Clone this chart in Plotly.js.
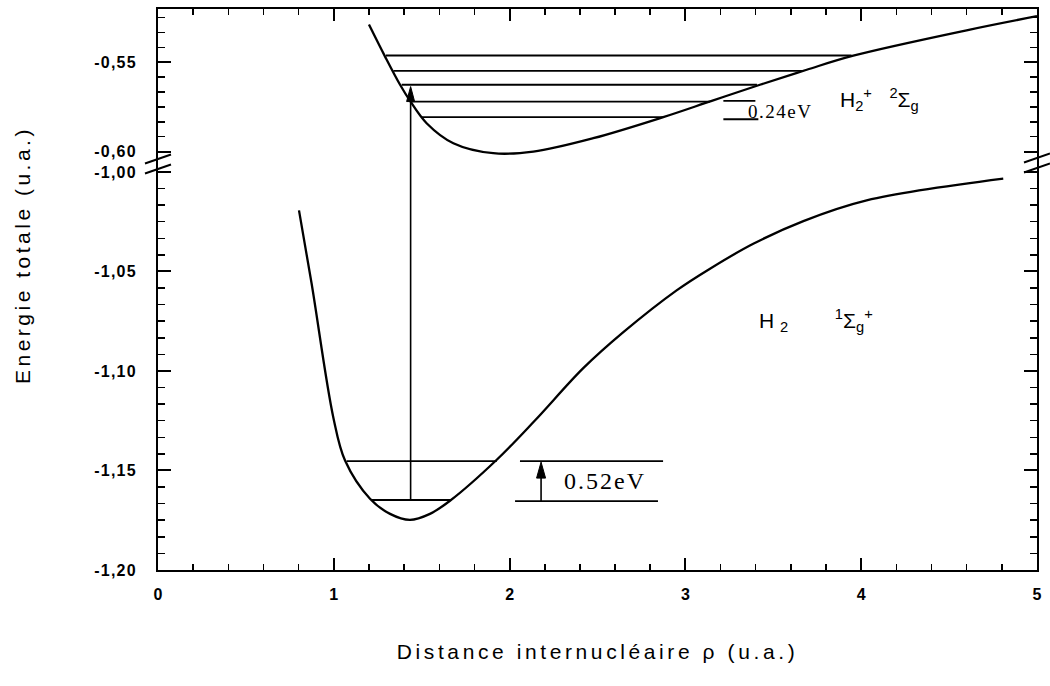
<!DOCTYPE html>
<html>
<head>
<meta charset="utf-8">
<script src="https://cdn.plot.ly/plotly-3.0.1.min.js"></script>
<style>
  html, body { margin: 0; padding: 0; background: #fff; }
  #chart { width: 1050px; height: 686px; }
</style>
</head>
<body>
<div id="chart"></div>
<script>
/* H2 / H2+ potential curves with a broken energy axis.
   Values. */

// H2 1Σg+ ground state (lower panel)
const R_H2 = [0.802, 0.874, 0.997, 1.064, 1.206, 1.320, 1.433, 1.547, 1.661, 1.927, 2.144, 2.419, 2.647, 2.950, 3.140, 3.386, 3.671, 4.031, 4.808];
const E_H2 = [-1.0193, -1.0562, -1.1232, -1.1450, -1.1642, -1.1718, -1.1748, -1.1718, -1.1652, -1.1446, -1.1249, -1.0986, -1.0805, -1.0595, -1.0486, -1.0361, -1.0247, -1.0143, -1.0034];

// H2+ 2Σg (upper panel)
const R_H2P = [1.200, 1.291, 1.377, 1.433, 1.528, 1.680, 1.907, 2.135, 2.476, 2.874, 3.150, 3.424, 3.690, 3.955, 4.619, 5.0];
const E_H2P = [-0.5289, -0.5467, -0.5626, -0.5715, -0.5841, -0.5953, -0.6009, -0.6000, -0.5925, -0.5807, -0.5716, -0.5626, -0.5542, -0.5463, -0.5317, -0.5242];

// vibrational levels
const LEV_H2_E = [-1.1453, -1.1648];
const LEV_H2_R0 = [1.073, 1.216];
const LEV_H2_R1 = [1.927, 1.661];
const LEV_H2P_E = [-0.5462, -0.5548, -0.5626, -0.5720, -0.5807];
const LEV_H2P_R0 = [1.297, 1.339, 1.386, 1.433, 1.500];
const LEV_H2P_R1 = [3.945, 3.668, 3.407, 3.140, 2.874];

// vertical transition
const TRANS_R = 1.437;
const TRANS_E0 = -1.1648;   // start, lower panel
const TRANS_E1 = -0.5636;   // arrow tip, upper panel

// 0.52 eV bracket (lower panel)
const GAP52_E = [-1.1453, -1.1654];
const GAP52_R0 = [2.059, 2.031];
const GAP52_R1 = [2.873, 2.844];
const GAP52_ARROW_R = 2.179;
const GAP52_TIP = -1.1458;

// 0.24 eV marks (upper panel)
const GAP24_E = [-0.5716, -0.5819];
const GAP24_R0 = [3.216, 3.216];
const GAP24_R1 = [3.398, 3.415];

// axis ticks
const X_TICKS = [0, 1, 2, 3, 4, 5];
const X_TEXT = ['0', '1', '2', '3', '4', '5'];
const Y_LOW_TICKS = [-1.20, -1.15, -1.10, -1.05, -1.00];
const Y_LOW_TEXT = ['-1,20', '-1,15', '-1,10', '-1,05', '-1,00'];
const Y_UP_TICKS = [-0.60, -0.55];
const Y_UP_TEXT = ['-0,60', '-0,55'];

const X_RANGE = [0, 5];
const Y_LOW_RANGE = [-1.2, -0.995];
const Y_UP_RANGE = [-0.6058, -0.5202];
const SPLIT = 0.7273;

const M = { l: 158, r: 13, t: 9, b: 116 };
const PW = 1050 - M.l - M.r, PH = 686 - M.t - M.b;
const pxPerX = PW / (X_RANGE[1] - X_RANGE[0]);
const pxPerYLow = PH * SPLIT / (Y_LOW_RANGE[1] - Y_LOW_RANGE[0]);
const pxPerYUp = PH * (1 - SPLIT) / (Y_UP_RANGE[1] - Y_UP_RANGE[0]);

const BLACK = '#000';
const SANS = 'Arial, "Liberation Sans", sans-serif';
const SERIF = '"Liberation Serif", "Times New Roman", serif';
const TICK_FONT = { family: SANS, size: 16, color: BLACK, weight: 'bold' };

const ls = (t, s) => `<span style="letter-spacing:${s}px">${t}</span>`;
const NB = '\u00a0';
const nb = n => NB.repeat(n);

function seg(x0, x1, y0, y1, xa, ya, w) {
  return { type: 'scatter', mode: 'lines', x: [x0, x1], y: [y0, y1], xaxis: xa, yaxis: ya,
           line: { color: BLACK, width: w || 1.9 }, hoverinfo: 'skip', showlegend: false };
}

const traces = [
  { type: 'scatter', mode: 'lines', x: R_H2, y: E_H2, xaxis: 'x', yaxis: 'y',
    line: { color: BLACK, width: 2.3, shape: 'spline', smoothing: 1 }, hoverinfo: 'skip', showlegend: false },
  { type: 'scatter', mode: 'lines', x: R_H2P, y: E_H2P, xaxis: 'x2', yaxis: 'y2',
    line: { color: BLACK, width: 2.3, shape: 'spline', smoothing: 1 }, hoverinfo: 'skip', showlegend: false }
];
LEV_H2_E.forEach((e, i) => traces.push(seg(LEV_H2_R0[i], LEV_H2_R1[i], e, e, 'x', 'y')));
LEV_H2P_E.forEach((e, i) => traces.push(seg(LEV_H2P_R0[i], LEV_H2P_R1[i], e, e, 'x2', 'y2')));
GAP52_E.forEach((e, i) => traces.push(seg(GAP52_R0[i], GAP52_R1[i], e, e, 'x', 'y')));
GAP24_E.forEach((e, i) => traces.push(seg(GAP24_R0[i], GAP24_R1[i], e, e, 'x2', 'y2')));
// transition line crosses the break: one piece per panel
traces.push(seg(TRANS_R, TRANS_R, TRANS_E0, Y_LOW_RANGE[1], 'x', 'y', 1.6));
traces.push(seg(TRANS_R, TRANS_R, Y_UP_RANGE[0], TRANS_E1 - 10 / pxPerYUp, 'x2', 'y2', 1.6));
traces.push(seg(GAP52_ARROW_R, GAP52_ARROW_R, GAP52_E[1], GAP52_TIP - 10 / pxPerYLow, 'x', 'y', 1.6));

function arrowHead(x, tip, pxY, xref, yref, len, halfW) {
  const base = tip - len / pxY, hw = halfW / pxPerX;
  return { type: 'path', xref: xref, yref: yref,
           path: `M${x},${tip} L${x - hw},${base} L${x + hw},${base} Z`,
           fillcolor: BLACK, line: { color: BLACK, width: 1 } };
}

// axis-break marks (decoration, paper coords)
function breakMark(px, py) {
  const xp = (px - M.l) / PW, yp = (M.t + PH - py) / PH;
  const dx = 13 / PW, dy = 4.5 / PH;
  return { type: 'line', xref: 'paper', yref: 'paper', x0: xp - dx, y0: yp - dy, x1: xp + dx, y1: yp + dy,
           line: { color: BLACK, width: 2 } };
}
const splitPx = M.t + PH * (1 - SPLIT);

const shapes = [
  arrowHead(TRANS_R, TRANS_E1, pxPerYUp, 'x2', 'y2', 15, 4),
  arrowHead(GAP52_ARROW_R, GAP52_TIP, pxPerYLow, 'x', 'y', 16, 4.5),
  breakMark(M.l, splitPx - 3), breakMark(M.l, splitPx + 7),
  breakMark(M.l + PW, splitPx - 4), breakMark(M.l + PW, splitPx + 6)
];

const annotations = [
  { xref: 'x', yref: 'y', x: 2.30, y: -1.1555, xanchor: 'left', yanchor: 'middle', showarrow: false,
    text: ls('0.52eV', 2), font: { family: SERIF, size: 24, color: BLACK } },
  { xref: 'x2', yref: 'y2', x: 3.345, y: -0.5776, xanchor: 'left', yanchor: 'middle', showarrow: false,
    text: ls('0.24eV', 1.5), font: { family: SERIF, size: 19, color: BLACK } },
  { xref: 'x2', yref: 'y2', x: 3.868, y: -0.5711, xanchor: 'left', yanchor: 'middle', showarrow: false,
    text: `H<sub>2</sub><sup>+</sup>${nb(3)}<sup>2</sup>Σ<sub>g</sub>`, font: { family: SANS, size: 21, color: BLACK } },
  { xref: 'x', yref: 'y', x: 3.407, y: -1.0746, xanchor: 'left', yanchor: 'middle', showarrow: false,
    text: `H${nb(1)}<sub>2</sub>${nb(8)}<sup>1</sup>Σ<sub>g</sub><sup>+</sup>`, font: { family: SANS, size: 21, color: BLACK } },
  // y-axis title spans both panels
  { xref: 'paper', yref: 'paper', x: (22 - M.l) / PW, y: (M.t + PH - 255) / PH, xanchor: 'center', yanchor: 'middle',
    textangle: -90, showarrow: false, text: ls('Energie totale (u.a.)', 3.5), font: { family: SANS, size: 21, color: BLACK } }
];

const xCommon = {
  range: X_RANGE, showline: true, linecolor: BLACK, linewidth: 2, mirror: false,
  ticks: 'inside', ticklen: 12, tickwidth: 2, tickcolor: BLACK, tickmode: 'array', tickvals: X_TICKS, ticktext: X_TEXT,
  minor: { tickmode: 'linear', dtick: 0.2, tick0: 0, ticks: 'inside', ticklen: 6, tickwidth: 1.5, tickcolor: BLACK },
  showgrid: false, zeroline: false, fixedrange: true
};
const yCommon = {
  showline: true, linecolor: BLACK, linewidth: 2, mirror: 'ticks',
  ticks: 'inside', ticklen: 13, tickwidth: 2, tickcolor: BLACK, tickmode: 'array',
  minor: { tickmode: 'linear', tick0: -1.2, dtick: 0.05 / 6, ticks: 'inside', ticklen: 7, tickwidth: 1.5, tickcolor: BLACK },
  showgrid: false, zeroline: false, tickfont: TICK_FONT, ticklabelstandoff: 16, fixedrange: true
};

const layout = {
  width: 1050, height: 686, margin: M,
  paper_bgcolor: '#fff', plot_bgcolor: '#fff', showlegend: false,
  font: { family: SANS, color: BLACK },
  xaxis: { ...xCommon, anchor: 'y', side: 'bottom', tickfont: TICK_FONT, ticklabelstandoff: 9,
    title: { text: ls('Distance internucléaire ρ (u.a.)', 3.6), font: { family: SANS, size: 21, color: BLACK }, standoff: 42 } },
  xaxis2: { ...xCommon, matches: 'x', anchor: 'y2', side: 'top', showticklabels: false },
  yaxis: { ...yCommon, domain: [0, SPLIT], range: Y_LOW_RANGE, anchor: 'x',
    tickvals: Y_LOW_TICKS, ticktext: Y_LOW_TEXT.map(t => ls(t, 1.2)) },
  yaxis2: { ...yCommon, domain: [SPLIT, 1], range: Y_UP_RANGE, anchor: 'x2',
    tickvals: Y_UP_TICKS, ticktext: Y_UP_TEXT.map(t => ls(t, 1.2)) },
  shapes: shapes,
  annotations: annotations
};

Plotly.newPlot('chart', traces, layout, { displayModeBar: false, staticPlot: true });
</script>
</body>
</html>
